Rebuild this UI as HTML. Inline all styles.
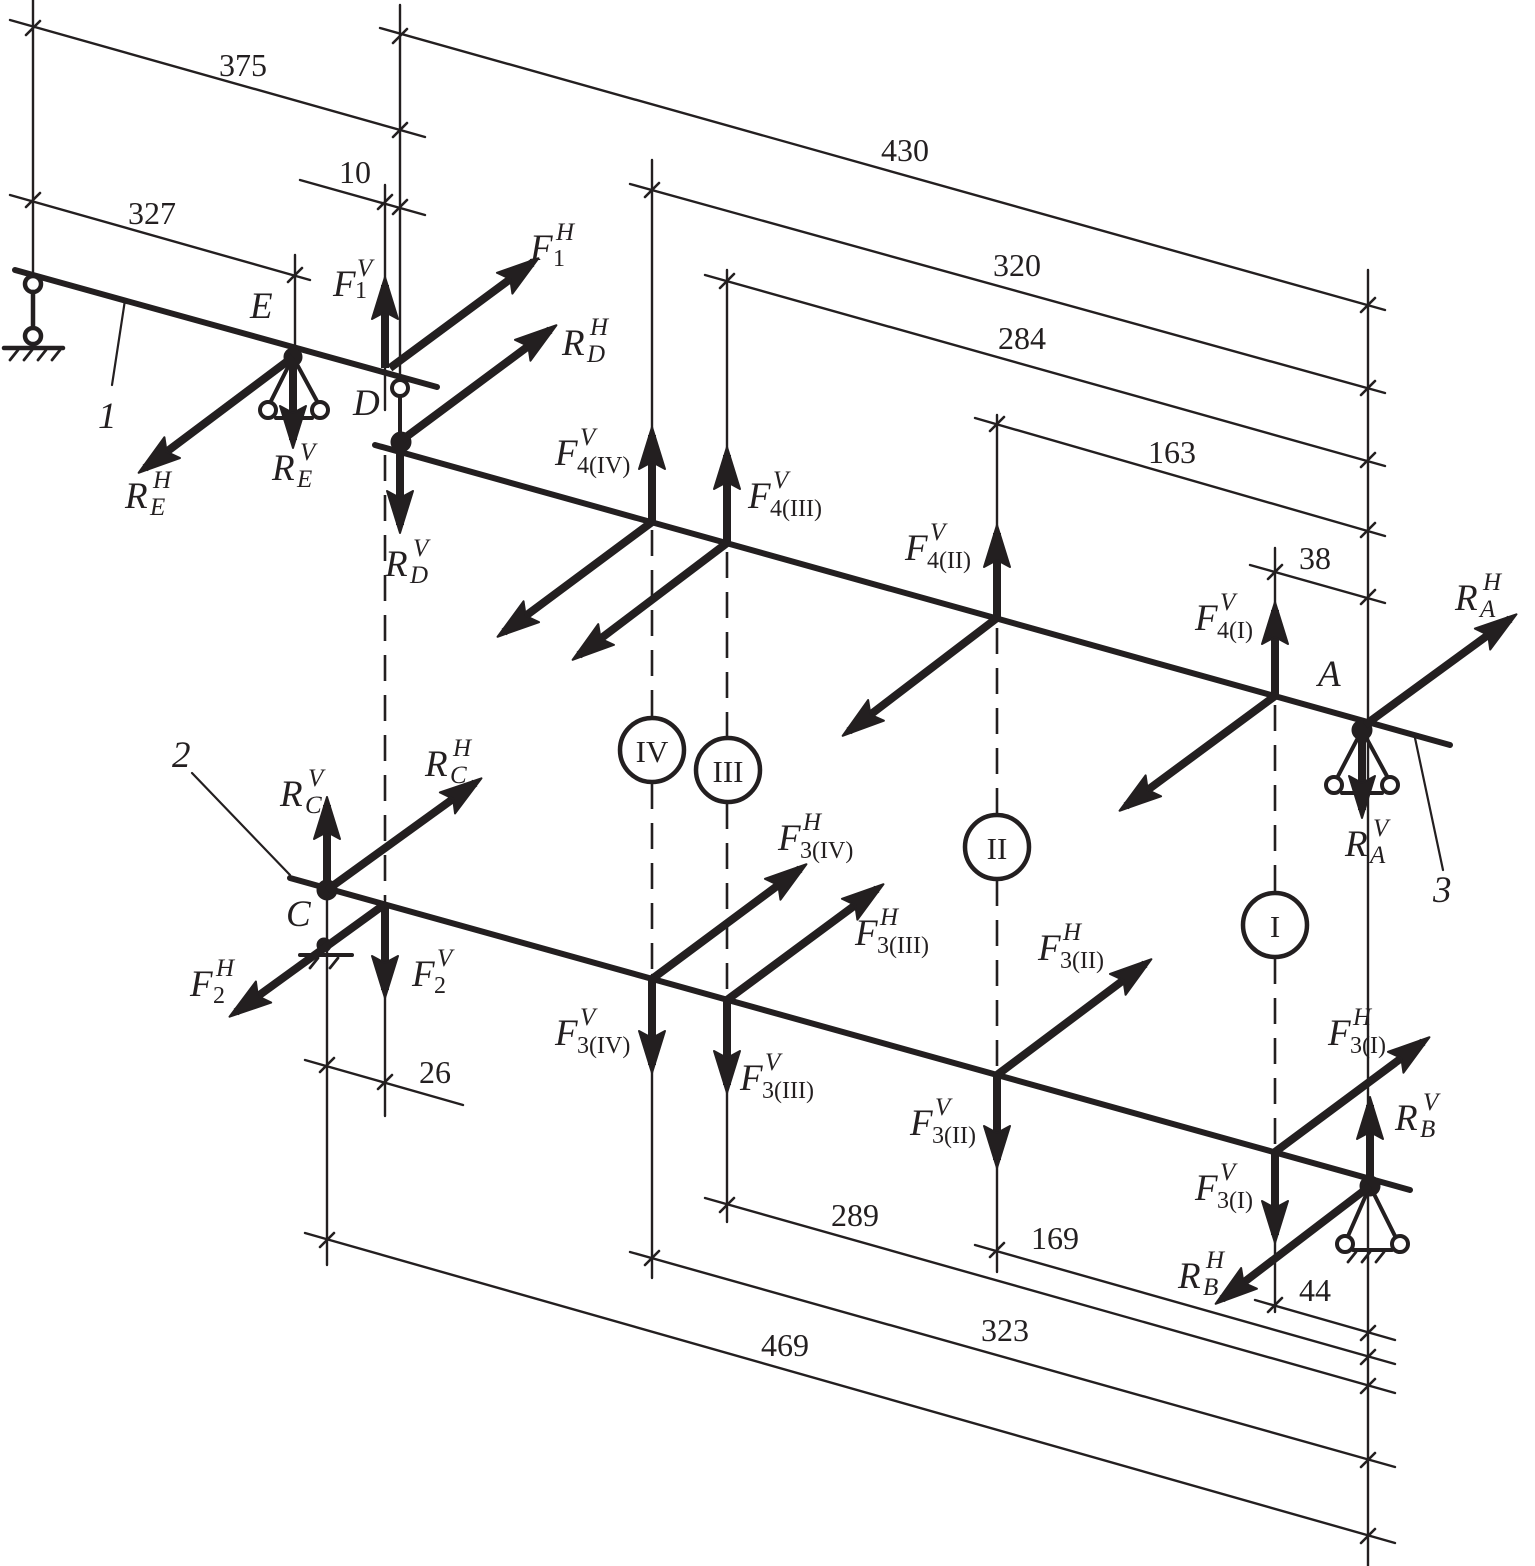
<!DOCTYPE html>
<html><head><meta charset="utf-8"><style>
body{margin:0;background:#fff}
svg{display:block}
text{font-family:"Liberation Serif",serif;fill:#231f20}
.i{font-style:italic;font-size:37px}
.s{font-size:24px}
.si{font-size:25px;font-style:italic}
.n{font-size:32px}
.r{font-size:31px}
</style></head><body>
<svg width="1535" height="1566" viewBox="0 0 1535 1566" xmlns="http://www.w3.org/2000/svg">
<defs>
<marker id="a" markerUnits="userSpaceOnUse" markerWidth="60" markerHeight="40" refX="0" refY="0" viewBox="-45 -20 60 40" orient="auto" overflow="visible">
<path d="M8,0 L-34,-13 L-27,0 L-34,13 Z" fill="#231f20" stroke="#231f20" stroke-width="2" stroke-linejoin="round"/>
</marker>
</defs>
<g stroke="#231f20" fill="none" stroke-linecap="round">
<g stroke-width="2.4">
<line x1="33" y1="0" x2="33" y2="278"/>
<line x1="400" y1="5" x2="400" y2="380"/>
<line x1="385" y1="185" x2="385" y2="410"/>
<line x1="295" y1="255" x2="295" y2="360"/>
<line x1="652" y1="160" x2="652" y2="520"/>
<line x1="652" y1="975" x2="652" y2="1278"/>
<line x1="727" y1="270" x2="727" y2="540"/>
<line x1="727" y1="1000" x2="727" y2="1222"/>
<line x1="997" y1="415" x2="997" y2="615"/>
<line x1="997" y1="1075" x2="997" y2="1272"/>
<line x1="1275" y1="548" x2="1275" y2="690"/>
<line x1="1275" y1="1150" x2="1275" y2="1312"/>
<line x1="1368" y1="270" x2="1368" y2="1566"/>
<line x1="385" y1="900" x2="385" y2="1116"/>
<line x1="327" y1="800" x2="327" y2="1265"/>
</g>
<g stroke-width="2.6" stroke-dasharray="26,14" stroke-linecap="butt">
<line x1="385" y1="455" x2="385" y2="900"/>
<line x1="652" y1="530" x2="652" y2="718"/>
<line x1="652" y1="783" x2="652" y2="975"/>
<line x1="727" y1="552" x2="727" y2="738"/>
<line x1="727" y1="803" x2="727" y2="1000"/>
<line x1="997" y1="628" x2="997" y2="815"/>
<line x1="997" y1="880" x2="997" y2="1075"/>
<line x1="1275" y1="705" x2="1275" y2="893"/>
<line x1="1275" y1="958" x2="1275" y2="1150"/>
</g>
<g stroke-width="2.4">
<line x1="10" y1="20" x2="425" y2="137"/>
<line x1="380" y1="28" x2="1385" y2="310"/>
<line x1="10" y1="195" x2="310" y2="280"/>
<line x1="300" y1="180" x2="425" y2="215"/>
<line x1="630" y1="184" x2="1385" y2="393"/>
<line x1="705" y1="275" x2="1385" y2="466"/>
<line x1="975" y1="418" x2="1385" y2="536"/>
<line x1="1250" y1="565" x2="1385" y2="603"/>
<line x1="305" y1="1060" x2="463" y2="1105"/>
<line x1="705" y1="1198" x2="1395" y2="1393"/>
<line x1="975" y1="1245" x2="1395" y2="1364"/>
<line x1="1255" y1="1300" x2="1395" y2="1340"/>
<line x1="630" y1="1252" x2="1395" y2="1467"/>
<line x1="305" y1="1233" x2="1395" y2="1543"/>
</g>
<g stroke-width="2.6">
<path d="M26,35 l14,-14 M393,137 l14,-14 M393,43 l14,-14 M1361,312 l14,-14 M26,207 l14,-14 M288,282 l14,-14 M378,209 l14,-14 M393,214 l14,-14
M645,197 l14,-14 M1361,395 l14,-14 M720,288 l14,-14 M1361,467 l14,-14 M990,431 l14,-14 M1361,537 l14,-14 M1268,579 l14,-14 M1361,604 l14,-14
M320,1072 l14,-14 M378,1089 l14,-14 M720,1212 l14,-14 M1361,1393 l14,-14 M990,1257 l14,-14 M1361,1364 l14,-14 M1268,1312 l14,-14 M1361,1340 l14,-14
M645,1265 l14,-14 M1361,1467 l14,-14 M320,1247 l14,-14 M1361,1543 l14,-14"/>
</g>
<g stroke-width="6">
<line x1="15" y1="270" x2="437" y2="387"/>
<line x1="375" y1="445" x2="1450" y2="745"/>
<line x1="290" y1="878" x2="1410" y2="1190"/>
</g>
<g stroke-width="2.2">
<line x1="125" y1="300" x2="112" y2="385"/>
<line x1="1415" y1="738" x2="1443" y2="870"/>
<line x1="192" y1="773" x2="290" y2="875"/>
</g>
<g stroke-width="4.5">
<circle cx="33" cy="284" r="8" fill="#fff"/>
<line x1="33" y1="292" x2="33" y2="327"/>
<circle cx="33" cy="336" r="8" fill="#fff"/>
<line x1="4" y1="348" x2="63" y2="348"/>
<path d="M10,360 l8,-10 M24,360 l8,-10 M38,360 l8,-10 M52,360 l8,-10" stroke-width="2.8"/>
</g>
<g stroke-width="4">
<line x1="293" y1="357" x2="270" y2="403"/>
<line x1="293" y1="357" x2="318" y2="403"/>
<circle cx="268" cy="410" r="8" fill="#fff"/>
<circle cx="320" cy="410" r="8" fill="#fff"/>
<line x1="276" y1="418" x2="312" y2="418"/>
</g>
<circle cx="293" cy="357" r="9" fill="#231f20"/>
<circle cx="400" cy="388" r="8" stroke-width="4" fill="#fff"/>
<line x1="400" y1="396" x2="400" y2="440" stroke-width="4"/>
<circle cx="401" cy="442" r="10" fill="#231f20"/>
<g stroke-width="4">
<line x1="1362" y1="730" x2="1337" y2="778"/>
<line x1="1362" y1="730" x2="1388" y2="778"/>
<circle cx="1334" cy="785" r="8" fill="#fff"/>
<circle cx="1390" cy="785" r="8" fill="#fff"/>
<line x1="1342" y1="793" x2="1382" y2="793"/>
</g>
<circle cx="1362" cy="730" r="10" fill="#231f20"/>
<g stroke-width="4">
<line x1="1370" y1="1186" x2="1348" y2="1236"/>
<line x1="1370" y1="1186" x2="1395" y2="1236"/>
<circle cx="1345" cy="1244" r="8" fill="#fff"/>
<circle cx="1400" cy="1244" r="8" fill="#fff"/>
<line x1="1353" y1="1250" x2="1392" y2="1250"/>
<path d="M1348,1262 l8,-10 M1362,1262 l8,-10 M1376,1262 l8,-10" stroke-width="2.8"/>
</g>
<circle cx="1370" cy="1186" r="10" fill="#231f20"/>
<circle cx="327" cy="890" r="10" fill="#231f20"/>
<circle cx="324" cy="945" r="7" fill="#231f20"/>
<line x1="300" y1="955" x2="352" y2="955" stroke-width="4"/>
<path d="M310,968 l8,-10 M330,968 l8,-10" stroke-width="2.8"/>
<g stroke-width="8" marker-end="url(#a)" stroke-linecap="butt">
<line x1="385" y1="368" x2="385" y2="285"/>
<line x1="390" y1="368" x2="532" y2="263"/>
<line x1="402" y1="440" x2="550" y2="330"/>
<line x1="400" y1="445" x2="400" y2="525"/>
<line x1="293" y1="357" x2="145" y2="468"/>
<line x1="293" y1="360" x2="293" y2="440"/>
<line x1="652" y1="522" x2="652" y2="435"/>
<line x1="652" y1="522" x2="504" y2="632"/>
<line x1="727" y1="543" x2="727" y2="455"/>
<line x1="727" y1="543" x2="579" y2="655"/>
<line x1="997" y1="618" x2="997" y2="533"/>
<line x1="997" y1="618" x2="849" y2="731"/>
<line x1="1275" y1="696" x2="1275" y2="610"/>
<line x1="1275" y1="696" x2="1126" y2="806"/>
<line x1="1365" y1="725" x2="1510" y2="619"/>
<line x1="1362" y1="735" x2="1362" y2="810"/>
<line x1="327" y1="890" x2="327" y2="805"/>
<line x1="327" y1="890" x2="475" y2="783"/>
<line x1="385" y1="904" x2="236" y2="1012"/>
<line x1="385" y1="904" x2="385" y2="990"/>
<line x1="652" y1="979" x2="800" y2="869"/>
<line x1="652" y1="979" x2="652" y2="1065"/>
<line x1="727" y1="1000" x2="877" y2="889"/>
<line x1="727" y1="1000" x2="727" y2="1085"/>
<line x1="997" y1="1075" x2="1145" y2="964"/>
<line x1="997" y1="1075" x2="997" y2="1160"/>
<line x1="1275" y1="1152" x2="1423" y2="1042"/>
<line x1="1275" y1="1152" x2="1275" y2="1235"/>
<line x1="1370" y1="1186" x2="1370" y2="1105"/>
<line x1="1370" y1="1186" x2="1222" y2="1299"/>
</g>
<g stroke-width="4.5" fill="#fff">
<circle cx="652" cy="750" r="32"/>
<circle cx="728" cy="770" r="32"/>
<circle cx="997" cy="847" r="32"/>
<circle cx="1275" cy="925" r="32"/>
</g>
</g>
<g text-anchor="middle">
<text x="652" y="762" class="r">IV</text>
<text x="728" y="782" class="r">III</text>
<text x="997" y="859" class="r">II</text>
<text x="1275" y="937" class="r">I</text>
</g>
<g text-anchor="middle">
<text class="n" x="243" y="76">375</text>
<text class="n" x="905" y="161">430</text>
<text class="n" x="152" y="224">327</text>
<text class="n" x="355" y="183">10</text>
<text class="n" x="1017" y="276">320</text>
<text class="n" x="1022" y="349">284</text>
<text class="n" x="1172" y="463">163</text>
<text class="n" x="1315" y="569">38</text>
<text class="n" x="435" y="1083">26</text>
<text class="n" x="855" y="1226">289</text>
<text class="n" x="1055" y="1249">169</text>
<text class="n" x="1315" y="1301">44</text>
<text class="n" x="1005" y="1341">323</text>
<text class="n" x="785" y="1356">469</text>
</g>
<text class="i" x="98" y="428">1</text>
<text class="i" x="172" y="767">2</text>
<text class="i" x="1433" y="902">3</text>
<text class="i" x="250" y="318">E</text>
<text class="i" x="353" y="415">D</text>
<text class="i" x="1318" y="686">A</text>
<text class="i" x="286" y="926">C</text>

<text class="i" x="333" y="296">F</text><text class="si" x="357" y="276">V</text><text class="s" x="355" y="298">1</text>
<text class="i" x="530" y="260">F</text><text class="si" x="556" y="240">H</text><text class="s" x="553" y="266">1</text>
<text class="i" x="562" y="355">R</text><text class="si" x="590" y="335">H</text><text class="si" x="587" y="362">D</text>
<text class="i" x="385" y="576">R</text><text class="si" x="413" y="556">V</text><text class="si" x="410" y="583">D</text>
<text class="i" x="125" y="508">R</text><text class="si" x="153" y="488">H</text><text class="si" x="150" y="515">E</text>
<text class="i" x="272" y="480">R</text><text class="si" x="300" y="460">V</text><text class="si" x="297" y="487">E</text>

<text class="i" x="555" y="465">F</text><text class="si" x="580" y="445">V</text><text class="s" x="577" y="473">4(IV)</text>
<text class="i" x="748" y="508">F</text><text class="si" x="773" y="488">V</text><text class="s" x="770" y="516">4(III)</text>
<text class="i" x="905" y="560">F</text><text class="si" x="930" y="540">V</text><text class="s" x="927" y="568">4(II)</text>
<text class="i" x="1195" y="630">F</text><text class="si" x="1220" y="610">V</text><text class="s" x="1217" y="638">4(I)</text>
<text class="i" x="1455" y="610">R</text><text class="si" x="1483" y="590">H</text><text class="si" x="1480" y="617">A</text>
<text class="i" x="1345" y="856">R</text><text class="si" x="1373" y="836">V</text><text class="si" x="1370" y="863">A</text>

<text class="i" x="280" y="806">R</text><text class="si" x="308" y="786">V</text><text class="si" x="305" y="813">C</text>
<text class="i" x="425" y="776">R</text><text class="si" x="453" y="756">H</text><text class="si" x="450" y="783">C</text>
<text class="i" x="190" y="996">F</text><text class="si" x="216" y="976">H</text><text class="s" x="213" y="1003">2</text>
<text class="i" x="412" y="986">F</text><text class="si" x="437" y="966">V</text><text class="s" x="434" y="993">2</text>

<text class="i" x="778" y="850">F</text><text class="si" x="803" y="830">H</text><text class="s" x="800" y="858">3(IV)</text>
<text class="i" x="855" y="945">F</text><text class="si" x="880" y="925">H</text><text class="s" x="877" y="953">3(III)</text>
<text class="i" x="1038" y="960">F</text><text class="si" x="1063" y="940">H</text><text class="s" x="1060" y="968">3(II)</text>
<text class="i" x="1328" y="1045">F</text><text class="si" x="1353" y="1025">H</text><text class="s" x="1350" y="1053">3(I)</text>
<text class="i" x="555" y="1045">F</text><text class="si" x="580" y="1025">V</text><text class="s" x="577" y="1053">3(IV)</text>
<text class="i" x="740" y="1090">F</text><text class="si" x="765" y="1070">V</text><text class="s" x="762" y="1098">3(III)</text>
<text class="i" x="910" y="1135">F</text><text class="si" x="935" y="1115">V</text><text class="s" x="932" y="1143">3(II)</text>
<text class="i" x="1195" y="1200">F</text><text class="si" x="1220" y="1180">V</text><text class="s" x="1217" y="1208">3(I)</text>
<text class="i" x="1395" y="1130">R</text><text class="si" x="1423" y="1110">V</text><text class="si" x="1420" y="1137">B</text>
<text class="i" x="1178" y="1288">R</text><text class="si" x="1206" y="1268">H</text><text class="si" x="1203" y="1295">B</text>
</svg>
</body></html>
